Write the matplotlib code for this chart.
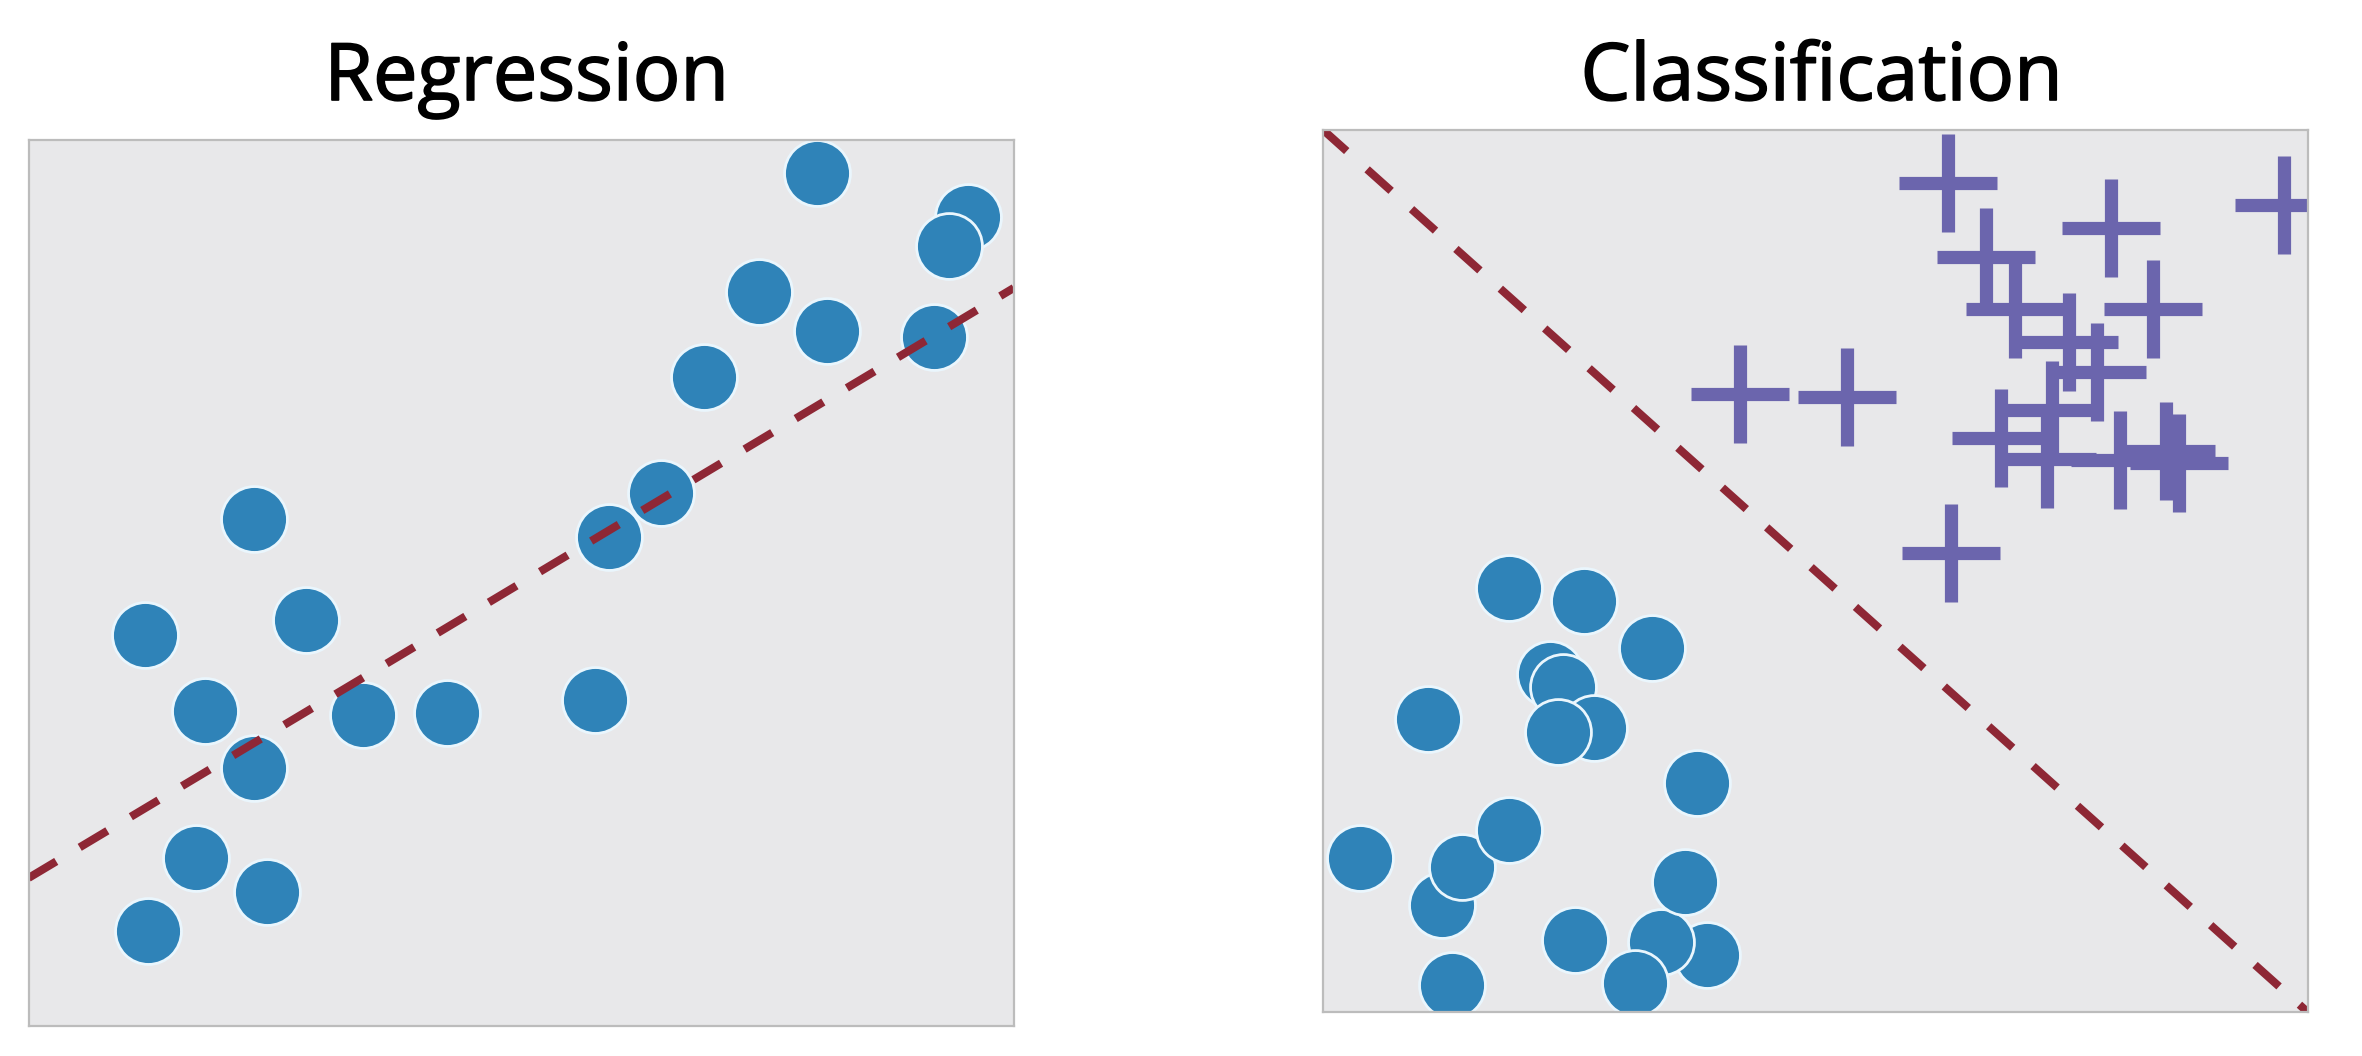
import matplotlib
matplotlib.use('Agg')
import matplotlib.pyplot as plt
import matplotlib.patheffects as pe
import numpy as np

# Values, on a 0-10 scale for both panels
reg_x = [8.00, 9.54, 9.34, 7.41, 8.10, 9.19, 6.86, 6.42, 5.89, 2.29,
         1.18, 2.82, 1.79, 3.39, 4.25, 5.75, 2.29, 1.70, 2.42, 1.21]
reg_y = [9.63, 9.13, 8.80, 8.28, 7.84, 7.78, 7.33, 6.01, 5.52, 5.72,
         4.41, 4.58, 3.55, 3.51, 3.53, 3.68, 2.91, 1.90, 1.51, 1.07]
reg_line_x = [0, 10]
reg_line_y = [1.67, 8.33]

cls_circ_x = [1.89, 2.65, 3.34, 2.31, 2.44, 2.75, 2.39, 1.07, 3.80, 1.21,
              1.41, 1.89, 0.38, 3.90, 3.43, 3.68, 3.17, 2.56, 1.31]
cls_circ_y = [4.81, 4.66, 4.13, 3.83, 3.68, 3.22, 3.17, 3.32, 2.60, 1.22,
              1.65, 2.07, 1.75, 0.65, 0.80, 1.48, 0.33, 0.82, 0.31]
cls_plus_x = [6.35, 8.00, 9.76, 6.73, 4.24, 5.32, 8.43, 7.03, 7.58, 7.86,
              6.88, 7.35, 7.40, 8.09, 8.56, 8.69, 6.38]
cls_plus_y = [9.40, 8.89, 9.15, 8.56, 7.01, 6.97, 7.97, 7.97, 7.59, 7.25,
              6.51, 6.27, 6.82, 6.26, 6.36, 6.22, 5.20]
cls_line_x = [0, 10]
cls_line_y = [10, 0]

titles = ['Regression', 'Classification']

blue = '#2f83b8'
purple = '#6b65ad'
red = '#8e2735'
bg = '#e8e8ea'
border = '#bcbcbc'

fig = plt.figure(figsize=(23.62, 10.56), dpi=100, facecolor='w')
ax1 = fig.add_axes([0.0121, 0.0285, 0.4171, 0.8389])
ax2 = fig.add_axes([0.5600, 0.0414, 0.4171, 0.8359])

circ = dict(s=2250, c=blue, edgecolors='#eaf6fd', linewidths=2.0, zorder=3)
dash = dict(color=red, lw=5.8, dashes=(4.0, 3.4), zorder=4)

ax1.plot(reg_line_x, reg_line_y, **dash)
ax1.scatter(reg_x, reg_y, **circ)

ax2.plot(cls_line_x, cls_line_y, **dash)
ax2.scatter(cls_circ_x, cls_circ_y, **circ)
ax2.plot(cls_plus_x, cls_plus_y, ls='none', marker='+', ms=71, mew=9.5,
         color=purple, zorder=3)

for ax in (ax1, ax2):
    ax.set_xlim(0, 10)
    ax.set_ylim(0, 10)
    ax.set_facecolor(bg)
    ax.set_xticks([])
    ax.set_yticks([])
    for sp in ax.spines.values():
        sp.set_color(border)
        sp.set_linewidth(1.6)
        sp.set_zorder(5)

# slight stroke to get closer to the heavier title face
thick = [pe.withStroke(linewidth=1.2, foreground='black')]
fig.text(0.2229, 0.9053, titles[0], ha='center', va='baseline',
         fontsize=57, family='Open Sans', path_effects=thick)
fig.text(0.7712, 0.9053, titles[1], ha='center', va='baseline',
         fontsize=57, family='Open Sans', path_effects=thick)

fig.savefig('out.png', dpi=100, facecolor='w')
